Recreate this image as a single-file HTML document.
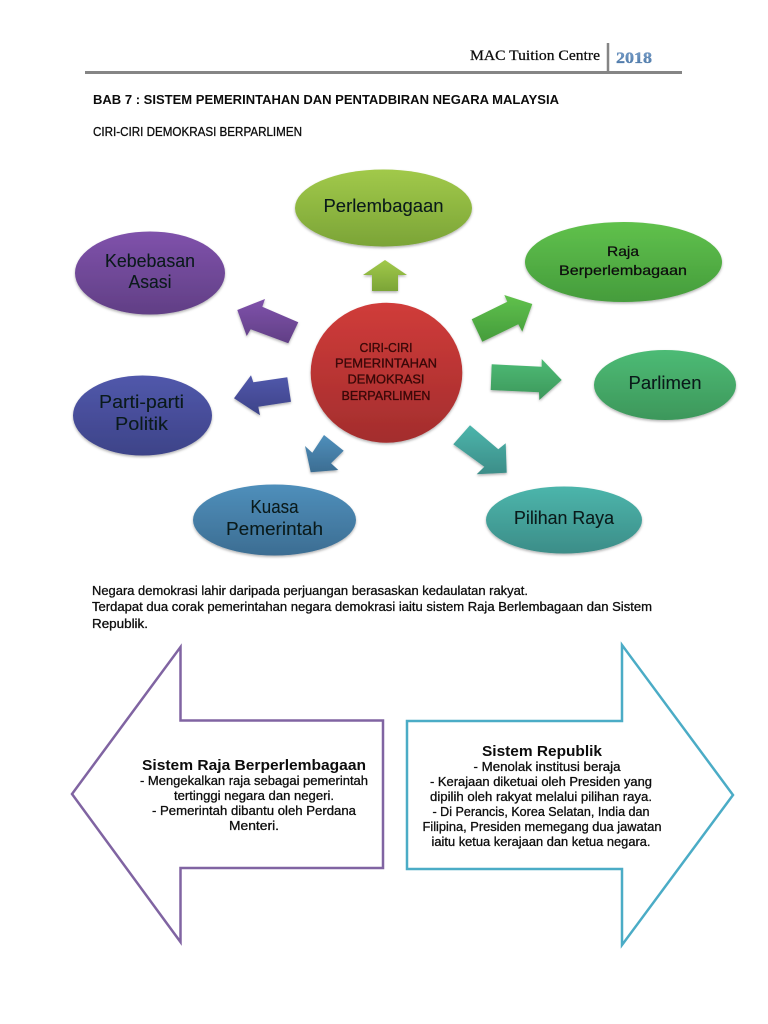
<!DOCTYPE html>
<html lang="ms">
<head>
<meta charset="utf-8">
<title>Bab 7</title>
<style>
html,body{margin:0;padding:0;background:#fff;width:768px;height:1024px;overflow:hidden}
svg{display:block;position:absolute;left:0;top:0}
text{font-family:"Liberation Sans",sans-serif;fill:#0c0c0c}
.big{font-size:18.5px;fill:#0a1a1a;stroke:#0a1a1a;stroke-width:.1px}
.mid{font-size:14px;stroke:#111;stroke-width:.25px}
.body{font-size:12.5px;stroke:#111;stroke-width:.3px}
.c{font-size:13px;fill:#3a0808;stroke:#3a0808;stroke-width:.35px}
</style>
</head>
<body>
<svg width="768" height="1024" viewBox="0 0 768 1024" xmlns="http://www.w3.org/2000/svg">
<defs>
<filter id="s" x="-10%" y="-10%" width="120%" height="125%"><feDropShadow dx="0" dy="1.5" stdDeviation="1.2" flood-color="#000" flood-opacity=".3"/></filter>
<linearGradient id="g1" x1="0" y1="0" x2="0" y2="1"><stop offset="0" stop-color="#a1c94a"/><stop offset="1" stop-color="#7ba437"/></linearGradient>
<linearGradient id="g2" x1="0" y1="0" x2="0" y2="1"><stop offset="0" stop-color="#60c14c"/><stop offset="1" stop-color="#459c3c"/></linearGradient>
<linearGradient id="g3" x1="0" y1="0" x2="0" y2="1"><stop offset="0" stop-color="#4dbb75"/><stop offset="1" stop-color="#3d975b"/></linearGradient>
<linearGradient id="g4" x1="0" y1="0" x2="0" y2="1"><stop offset="0" stop-color="#4cb5ab"/><stop offset="1" stop-color="#3c8d88"/></linearGradient>
<linearGradient id="g5" x1="0" y1="0" x2="0" y2="1"><stop offset="0" stop-color="#4f8fbb"/><stop offset="1" stop-color="#3c6d92"/></linearGradient>
<linearGradient id="g6" x1="0" y1="0" x2="0" y2="1"><stop offset="0" stop-color="#5158ab"/><stop offset="1" stop-color="#3d4388"/></linearGradient>
<linearGradient id="g7" x1="0" y1="0" x2="0" y2="1"><stop offset="0" stop-color="#7f52ab"/><stop offset="1" stop-color="#613f85"/></linearGradient>
<linearGradient id="g8" x1="0" y1="0" x2="0" y2="1"><stop offset="0" stop-color="#d03c3a"/><stop offset="1" stop-color="#a32d2d"/></linearGradient>
<linearGradient id="y" x1="0" y1="0" x2="0" y2="1"><stop offset="0" stop-color="#7ea3cf"/><stop offset="1" stop-color="#44709f"/></linearGradient>
</defs>

<!-- header -->
<line x1="85" y1="72.5" x2="682" y2="72.5" stroke="#858585" stroke-width="3"/>
<line x1="608" y1="43" x2="608" y2="72" stroke="#858585" stroke-width="2.5"/>
<text x="470" y="60" style="font-family:'Liberation Serif',serif;font-size:14.5px;stroke:#111;stroke-width:.25px" textLength="130" lengthAdjust="spacingAndGlyphs">MAC Tuition Centre</text>
<text x="616" y="63" style="font-family:'Liberation Serif',serif;font-size:15.5px;font-weight:bold;fill:url(#y);stroke:#4d7aab;stroke-width:.3px" textLength="36" lengthAdjust="spacingAndGlyphs">2018</text>

<text x="93" y="104" class="body" style="font-weight:bold;stroke-width:0" textLength="466" lengthAdjust="spacingAndGlyphs">BAB 7 : SISTEM PEMERINTAHAN DAN PENTADBIRAN NEGARA MALAYSIA</text>
<text x="93" y="136" class="body" textLength="209" lengthAdjust="spacingAndGlyphs">CIRI-CIRI DEMOKRASI BERPARLIMEN</text>

<!-- ellipses -->
<g filter="url(#s)">
<ellipse cx="383.5" cy="208" rx="88.5" ry="38.5" fill="url(#g1)"/>
<ellipse cx="623.5" cy="262" rx="98.5" ry="40" fill="url(#g2)"/>
<ellipse cx="665" cy="385" rx="71" ry="35" fill="url(#g3)"/>
<ellipse cx="564" cy="520" rx="78" ry="33.5" fill="url(#g4)"/>
<ellipse cx="274.5" cy="520" rx="81.5" ry="35.5" fill="url(#g5)"/>
<ellipse cx="142.5" cy="415.5" rx="69.5" ry="40" fill="url(#g6)"/>
<ellipse cx="150" cy="273" rx="75" ry="41.5" fill="url(#g7)"/>
<ellipse cx="386.5" cy="372.7" rx="75.8" ry="70" fill="url(#g8)"/>
</g>

<!-- radial arrows -->
<g filter="url(#s)">
<polygon points="385,260 407,275 398,275 398,291 372,291 372,275 363,275" fill="url(#g1)"/>
<polygon points="471.7,319.3 482.3,341.7 518.3,324.3 522.3,331.7 532.3,304 504.3,295 507.3,301.7" fill="url(#g2)"/>
<polygon points="491.7,364.3 541.7,366.7 541.7,359 561.7,380 539.3,400 539,392.3 490.7,390" fill="url(#g3)"/>
<polygon points="470,425.3 453.3,444.3 484.3,466.7 476.7,474.3 506.7,472.7 505.7,443.3 498.3,449.3" fill="url(#g4)"/>
<polygon points="324,435 343.7,450.7 331,463.3 338.3,470 310.7,472.3 305,446 312.3,452.7" fill="url(#g5)"/>
<polygon points="287.3,377.3 291,401.7 258.3,406.7 260,415.3 234,398.3 251,375.3 253.3,382.3" fill="url(#g6)"/>
<polygon points="298.3,322.3 288.3,343.3 250.7,329.3 246.7,336 237.3,310 265,299 262.3,306.7" fill="url(#g7)"/>
</g>

<!-- ellipse labels -->
<g text-anchor="middle">
<text x="383.5" y="212" class="big" textLength="120" lengthAdjust="spacingAndGlyphs">Perlembagaan</text>
<text x="623" y="256" class="mid" textLength="32" lengthAdjust="spacingAndGlyphs">Raja</text>
<text x="623" y="275" class="mid" textLength="128" lengthAdjust="spacingAndGlyphs">Berperlembagaan</text>
<text x="665" y="389" class="big" textLength="73" lengthAdjust="spacingAndGlyphs">Parlimen</text>
<text x="564" y="524" class="big" textLength="100" lengthAdjust="spacingAndGlyphs">Pilihan Raya</text>
<text x="274.5" y="513" class="big" textLength="48" lengthAdjust="spacingAndGlyphs">Kuasa</text>
<text x="274.5" y="535" class="big" textLength="97" lengthAdjust="spacingAndGlyphs">Pemerintah</text>
<text x="141.5" y="408" class="big" textLength="85" lengthAdjust="spacingAndGlyphs">Parti-parti</text>
<text x="141.5" y="430" class="big" textLength="53" lengthAdjust="spacingAndGlyphs">Politik</text>
<text x="150" y="267" class="big" textLength="90" lengthAdjust="spacingAndGlyphs">Kebebasan</text>
<text x="150" y="288" class="big" textLength="43" lengthAdjust="spacingAndGlyphs">Asasi</text>
<text x="386" y="352" class="c" textLength="53" lengthAdjust="spacingAndGlyphs">CIRI-CIRI</text>
<text x="386" y="367.5" class="c" textLength="102" lengthAdjust="spacingAndGlyphs">PEMERINTAHAN</text>
<text x="386" y="383.5" class="c" textLength="77" lengthAdjust="spacingAndGlyphs">DEMOKRASI</text>
<text x="386" y="400" class="c" textLength="89" lengthAdjust="spacingAndGlyphs">BERPARLIMEN</text>
</g>

<!-- paragraph -->
<text x="92" y="595" class="body" textLength="436" lengthAdjust="spacingAndGlyphs">Negara demokrasi lahir daripada perjuangan berasaskan kedaulatan rakyat.</text>
<text x="92" y="611" class="body" textLength="560" lengthAdjust="spacingAndGlyphs">Terdapat dua corak pemerintahan negara demokrasi iaitu sistem Raja Berlembagaan dan Sistem</text>
<text x="92" y="628" class="body" textLength="56" lengthAdjust="spacingAndGlyphs">Republik.</text>

<!-- big arrows -->
<polygon points="180.5,647 180.5,720.5 383,720.5 383,868 180.5,868 180.5,942 72,794" fill="#fff" stroke="#8064a2" stroke-width="2.5"/>
<polygon points="407,721 622,721 622,645 733,795 622,945 622,869 407,869" fill="#fff" stroke="#4bacc6" stroke-width="2.5"/>

<g text-anchor="middle">
<text x="254" y="770" style="font-size:15px;font-weight:bold;stroke:none" textLength="224" lengthAdjust="spacingAndGlyphs">Sistem Raja Berperlembagaan</text>
<text x="254" y="785" class="body" textLength="228" lengthAdjust="spacingAndGlyphs">- Mengekalkan raja sebagai pemerintah</text>
<text x="254" y="800" class="body" textLength="160" lengthAdjust="spacingAndGlyphs">tertinggi negara dan negeri.</text>
<text x="254" y="815" class="body" textLength="204" lengthAdjust="spacingAndGlyphs">- Pemerintah dibantu oleh Perdana</text>
<text x="254" y="830" class="body" textLength="50" lengthAdjust="spacingAndGlyphs">Menteri.</text>

<text x="542" y="756" style="font-size:15px;font-weight:bold;stroke:none" textLength="120" lengthAdjust="spacingAndGlyphs">Sistem Republik</text>
<text x="547" y="771" class="body" textLength="147" lengthAdjust="spacingAndGlyphs">- Menolak institusi beraja</text>
<text x="541" y="786" class="body" textLength="222" lengthAdjust="spacingAndGlyphs">- Kerajaan diketuai oleh Presiden yang</text>
<text x="541" y="801" class="body" textLength="222" lengthAdjust="spacingAndGlyphs">dipilih oleh rakyat melalui pilihan raya.</text>
<text x="541" y="816" class="body" textLength="217" lengthAdjust="spacingAndGlyphs">- Di Perancis, Korea Selatan, India dan</text>
<text x="542" y="831" class="body" textLength="239" lengthAdjust="spacingAndGlyphs">Filipina, Presiden memegang dua jawatan</text>
<text x="541" y="846" class="body" textLength="219" lengthAdjust="spacingAndGlyphs">iaitu ketua kerajaan dan ketua negara.</text>
</g>
</svg>
</body>
</html>
